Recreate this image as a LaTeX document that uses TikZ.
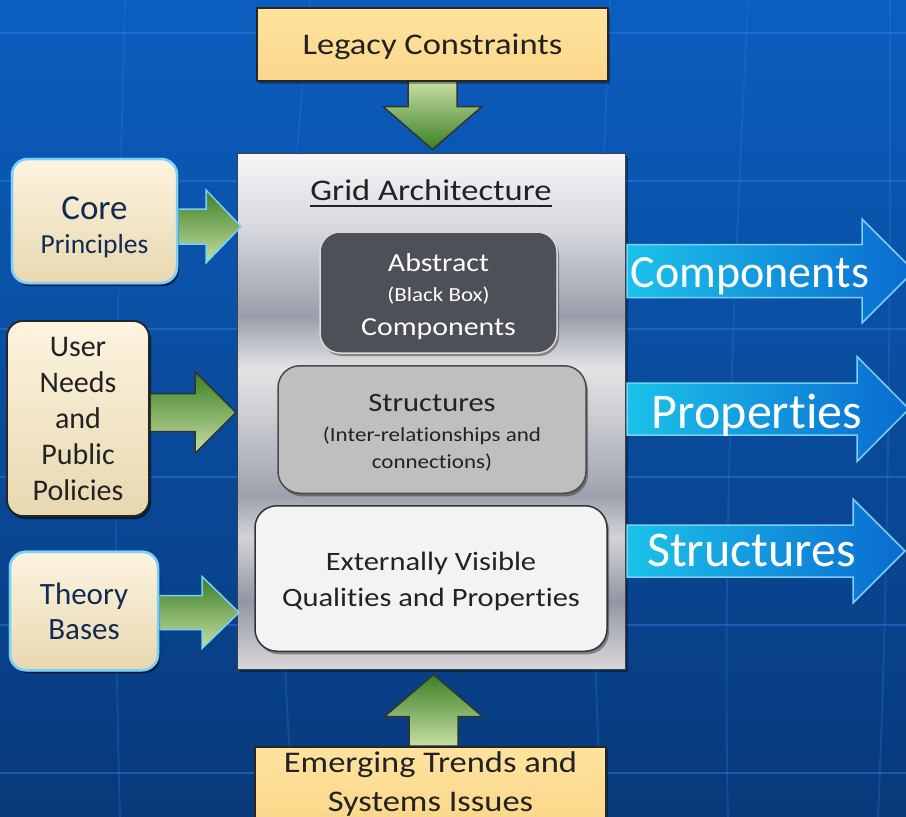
\documentclass[tikz,border=0pt]{standalone}
\usepackage{fontspec}
\setmainfont{Carlito}[FakeStretch=1.15, Ligatures={NoCommon,NoContextual}]
\newfontfamily\plainfont{Carlito}[Ligatures={NoCommon,NoContextual}]
\usetikzlibrary{calc,shadows}
\definecolor{bgtop}{HTML}{0B5EC0}
\definecolor{bgbot}{HTML}{08397A}
\definecolor{gridln}{HTML}{2A7BDB}
\definecolor{gdark}{HTML}{3A7F23}
\definecolor{glight}{HTML}{C8DFA5}
\definecolor{bluel}{HTML}{1BC2EA}
\definecolor{bluer}{HTML}{0A6AD0}
\definecolor{bedge}{HTML}{7AD0F6}
\definecolor{cream1}{HTML}{FDF4E0}
\definecolor{cream2}{HTML}{E8D8B0}
\definecolor{leg1}{HTML}{FEE39E}
\definecolor{leg2}{HTML}{FBD78A}
\definecolor{navy}{HTML}{112B52}
\definecolor{darktext}{HTML}{222222}
\definecolor{abfill}{HTML}{4D5157}
\definecolor{abedge}{HTML}{DADADA}
\definecolor{stfill}{HTML}{BFBFC0}
\definecolor{stedge}{HTML}{4A4A4A}
\definecolor{exfill}{HTML}{F3F3F3}
\definecolor{s0}{HTML}{F7F7F9}
\definecolor{s1}{HTML}{D5D7DD}
\definecolor{s2}{HTML}{9A9EAB}
\definecolor{s3}{HTML}{E4E4E6}
\definecolor{s4}{HTML}{C9CBD1}
\definecolor{s5}{HTML}{9EA2AE}
\definecolor{s6}{HTML}{D3D4D8}
\definecolor{s7}{HTML}{9296A3}
\definecolor{s8}{HTML}{D8D8DB}
\pgfdeclareverticalshading{silver}{100bp}{color(0bp)=(s8); color(25bp)=(s8); color(31.6bp)=(s7); color(37.8bp)=(s6); color(41.8bp)=(s5); color(49.1bp)=(s4); color(54.1bp)=(s3); color(59.2bp)=(s2); color(67.5bp)=(s1); color(75bp)=(s0); color(100bp)=(s0)}
\newcommand\fsz[2]{\fontsize{#1}{#2}\selectfont}
% block arrows: style, start, tip, half shaft, half head, head length
\newcommand\rblock[6]{\path[#1] let \p1=(#2), \p2=(#3) in
  (\x1,\y2+#4) -- (\x2-#6,\y2+#4) -- (\x2-#6,\y2+#5) -- (\x2,\y2) -- (\x2-#6,\y2-#5) -- (\x2-#6,\y2-#4) -- (\x1,\y2-#4) -- cycle;}
\newcommand\dblock[6]{\path[#1] let \p1=(#2), \p2=(#3) in
  (\x2-#4,\y1) -- (\x2-#4,\y2+#6) -- (\x2-#5,\y2+#6) -- (\x2,\y2) -- (\x2+#5,\y2+#6) -- (\x2+#4,\y2+#6) -- (\x2+#4,\y1) -- cycle;}
\newcommand\ublock[6]{\path[#1] let \p1=(#2), \p2=(#3) in
  (\x2-#4,\y1) -- (\x2-#4,\y2-#6) -- (\x2-#5,\y2-#6) -- (\x2,\y2) -- (\x2+#5,\y2-#6) -- (\x2+#4,\y2-#6) -- (\x2+#4,\y1) -- cycle;}
\tikzset{
  every node/.style={inner sep=0pt},
  gridline/.style={draw=gridln, line width=2.2pt, opacity=0.5},
  meridian/.style={draw=gridln, line width=1.8pt, opacity=0.3},
  shadowed/.style={drop shadow={shadow xshift=2pt, shadow yshift=-3pt, opacity=0.35, fill=black}},
  yellowbox/.style={draw=black!85, line width=1.5pt, top color=leg1, bottom color=leg2, text=darktext, align=center, shadowed},
  creambox/.style={draw=#1, line width=2.5pt, rounded corners=16pt, top color=cream1, bottom color=cream2, align=center, shadowed},
  gridbox/.style={draw=black!75, line width=1pt, shade, shading=silver, shadowed},
  absbox/.style={draw=abedge, line width=1.5pt, rounded corners=20pt, fill=abfill, text=white, align=center, shadowed},
  strbox/.style={draw=stedge, line width=1.5pt, rounded corners=22pt, fill=stfill, text=darktext, align=center, shadowed},
  extbox/.style={draw=black!80, line width=1.5pt, rounded corners=22pt, fill=exfill, text=darktext, align=center, shadowed},
  garrow/.style={draw=#1, line width=1.5pt, top color=gdark, bottom color=glight},
  garrowdown/.style={draw=#1, line width=1.5pt, top color=glight, bottom color=gdark},
  barrow/.style={draw=bedge, line width=1.5pt, left color=bluel, right color=bluer},
  btext/.style={text=white, anchor=base},
}
\begin{document}
\begin{tikzpicture}[x=1pt,y=-1pt]
\useasboundingbox (0,0) rectangle (906,817);
\shade[top color=bgtop, bottom color=bgbot] (0,0) rectangle (906,817);
\foreach \yy in {33,181,329,477,625,773} \draw[gridline] (0,\yy) -- (906,\yy);
\draw[meridian] (125,0) .. controls (118,270) and (112,540) .. (120,817);
\draw[meridian] (310,0) .. controls (285,270) and (270,540) .. (295,817);
\draw[meridian] (610,0) .. controls (600,270) and (585,540) .. (602,817);
\draw[meridian] (748,0) .. controls (735,270) and (722,540) .. (728,817);
\draw[meridian] (890,0) .. controls (890,270) and (890,540) .. (878,817);

% main box
\node[gridbox, minimum width=388, minimum height=516] (grid) at (431.5,411) {};
\node[font=\fsz{30}{36}, text=darktext, anchor=base] (title) at (431,200) {Grid Architecture};
\draw[line width=1.6pt, draw=darktext] ($(title.base west)+(0,6)$) -- ($(title.base east)+(0,6)$);
\node[absbox, minimum width=237, minimum height=121, font=\fsz{26}{30}] (abs) at (438.5,292.5)
  {\rule{0pt}{26pt}Abstract\\{\fsz{20}{30}(Black Box)}\\[4pt]Components};
\node[strbox, minimum width=308, minimum height=127.5, font=\fsz{20}{27}] (str) at (432,429.5)
  {\rule{0pt}{24pt}{\fsz{26.5}{27}Structures}\\[3pt](Inter-relationships and\\connections)};
\node[extbox, minimum width=352, minimum height=145.5, font=\fsz{26.5}{36}] (ext) at (431,578.5)
  {\rule{0pt}{25pt}Externally Visible\\Qualities and Properties};

% left inputs
\node[creambox=black!85, line width=1.8pt, minimum width=142, minimum height=195, text=darktext, font={\plainfont\fsz{30}{36}}] (user) at (78,418.5)
  {User\\Needs\\and\\Public\\Policies};
\node[creambox=bedge, minimum width=148, minimum height=118.5, text=navy, font={\plainfont\fsz{31}{35}}] (theory) at (84,611)
  {Theory\\Bases};
\node[creambox=bedge, minimum width=165, minimum height=124, text=navy, font={\plainfont\fsz{27.5}{34}}] (core) at (94.5,221)
  {\rule{0pt}{35pt}{\fsz{35}{34}Core}\\Principles};

\rblock{garrow=bedge}{core.east}{$(grid.west |- core.east)+(4,5.5)$}{17.5pt}{36.5pt}{35pt}
\rblock{garrow=black!80}{user.east}{$(grid.west |- user.east)+(-1,-6)$}{19pt}{41pt}{41pt}
\rblock{garrow=bedge}{theory.east}{$(grid.west |- theory.east)+(2,1.5)$}{17pt}{36pt}{37pt}

% redraw left boxes on top of arrow tails
\node[creambox=black!85, line width=1.8pt, minimum width=142, minimum height=195, text=darktext, font={\plainfont\fsz{30}{36}}] at (user) {User\\Needs\\and\\Public\\Policies};
\node[creambox=bedge, minimum width=148, minimum height=118.5, text=navy, font={\plainfont\fsz{31}{35}}] at (theory) {Theory\\Bases};
\node[creambox=bedge, minimum width=165, minimum height=124, text=navy, font={\plainfont\fsz{27.5}{34}}] at (core)
  {\rule{0pt}{35pt}{\fsz{35}{34}Core}\\Principles};

% top and bottom
\dblock{garrowdown=black!80}{$(432.5,81)$}{$(grid.north)+(1,-3)$}{24.5pt}{49.5pt}{43pt}
\node[yellowbox, minimum width=351, minimum height=73, font=\fsz{30}{36}, text depth=0pt] (legacy) at (432.5,44.5) {Legacy Constraints};
\ublock{garrow=black!80}{$(433.5,746)$}{$(grid.south)+(2,5)$}{24.5pt}{49pt}{42pt}
\node[yellowbox, anchor=north, minimum width=351, inner ysep=5pt, font=\fsz{30}{39}] (emerg) at (430.5,746)
  {Emerging Trends and\\Systems Issues};

% outputs
\coordinate (ctip) at (914,271);
\coordinate (ptip) at (909,409);
\coordinate (stip) at (905,551);
\rblock{barrow}{$(grid.east)+(1,0)$}{ctip}{26.5pt}{52pt}{52pt}
\rblock{barrow}{$(grid.east)+(1,0)$}{ptip}{26pt}{52.5pt}{52pt}
\rblock{barrow}{$(grid.east)+(1,0)$}{stip}{26pt}{52pt}{52pt}
\node[btext, font={\plainfont\fsz{46}{50}}] (tcomp) at (750,287) {Components};
\node[btext, font={\plainfont\fsz{50}{54}}] (tprop) at (757,428) {Properties};
\node[btext, font={\plainfont\fsz{50}{54}}] (tstruc) at (751.5,566) {Structures};
\end{tikzpicture}
\end{document}
